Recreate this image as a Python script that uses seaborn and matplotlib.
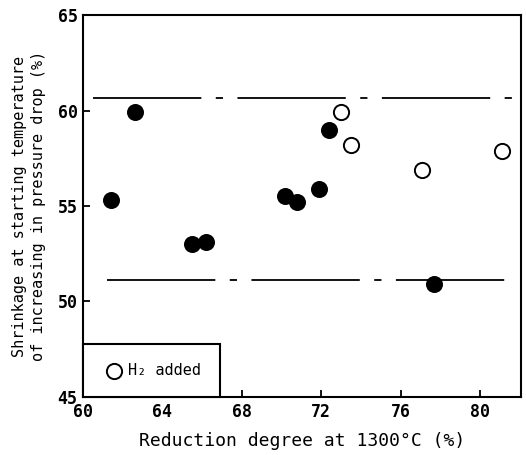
"""Shrinkage at start of pressure-drop increase vs. reduction degree at 1300 C."""

import matplotlib
matplotlib.use("Agg")
import matplotlib.pyplot as plt
import pandas as pd
import seaborn as sns

# Reduction degree at 1300 C (%) and shrinkage (%) -- without H2
base_reduction = [61.4, 62.6, 65.5, 66.2, 70.2, 70.8, 71.9, 72.4, 77.7]
base_shrinkage = [55.3, 59.9, 53.0, 53.1, 55.5, 55.2, 55.9, 59.0, 50.9]

# With H2 added
h2_reduction = [73.0, 73.5, 77.1, 81.1]
h2_shrinkage = [59.9, 58.2, 56.9, 57.9]

# Band limits (dash-dot lines)
band_levels = [60.65, 51.1]
band_x = [(60.5, 81.6), (61.2, 81.45)]

x_ticks = [60, 64, 68, 72, 76, 80]
y_ticks = [45, 50, 55, 60, 65]

sns.set_theme(style="ticks")
plt.rcParams["font.family"] = ["DejaVu Sans Mono", "DejaVu Sans"]
plt.rcParams["text.color"] = "black"
plt.rcParams["axes.labelcolor"] = "black"
plt.rcParams["xtick.color"] = "black"
plt.rcParams["ytick.color"] = "black"

fig = plt.figure(figsize=(5.26, 4.55), dpi=100)
ax = fig.add_axes([0.158, 0.1275, 0.8325, 0.8395])

base_df = pd.DataFrame({"x": base_reduction, "y": base_shrinkage})
h2_df = pd.DataFrame({"x": h2_reduction, "y": h2_shrinkage})

sns.scatterplot(data=base_df, x="x", y="y", ax=ax, s=150, color="black",
                edgecolor="black", linewidth=0, legend=False, zorder=3)
sns.scatterplot(data=h2_df, x="x", y="y", ax=ax, s=120, facecolor="white",
                edgecolor="black", linewidth=1.4, label="H₂ added", zorder=3)

for level, (x0, x1) in zip(band_levels, band_x):
    ax.plot([x0, x1], [level, level], color="black", linewidth=1.3,
            dashes=(60, 8, 4, 8), zorder=2)

ax.set_xlim(60, 82.07)
ax.set_ylim(45, 65)
ax.set_xticks(x_ticks)
ax.set_yticks(y_ticks)
ax.tick_params(direction="in", length=5, width=1.3, labelsize=12, pad=4)
for lbl in ax.get_xticklabels() + ax.get_yticklabels():
    lbl.set_fontweight("bold")
for spine in ax.spines.values():
    spine.set_linewidth(1.5)
    spine.set_color("black")

ax.set_xlabel("Reduction degree at 1300°C (%)", fontsize=13, labelpad=8)
ax.set_ylabel("Shrinkage at starting temperature\nof increasing in pressure drop (%)",
              fontsize=11, labelpad=8, linespacing=1.35)

leg = ax.legend(loc="lower left", bbox_to_anchor=(0, 0), borderaxespad=0,
                fancybox=False, edgecolor="black", framealpha=1, fontsize=11,
                borderpad=1.25, handletextpad=0.1, handlelength=1.6)
leg.get_frame().set_linewidth(1.5)

fig.savefig("out.png", dpi=100)
